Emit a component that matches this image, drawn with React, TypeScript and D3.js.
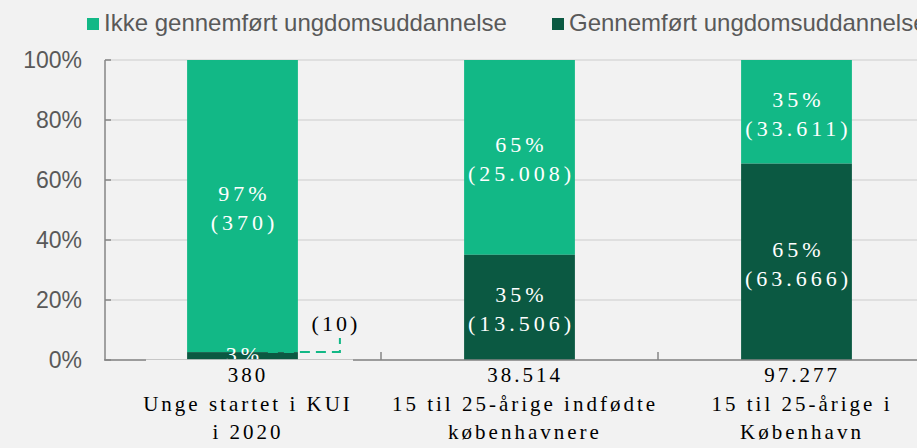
import React from "react";
import * as d3 from "d3";

const categories = ["Unge startet i KUI i 2020", "15 til 25-årige indfødte københavnere", "15 til 25-årige i København"];
const categoryLines = [
  ["380", "Unge startet i KUI", "i 2020"],
  ["38.514", "15 til 25-årige indfødte", "københavnere"],
  ["97.277", "15 til 25-årige i", "København"],
];
const totals = [380, 38514, 97277];
const completedCounts = [10, 13506, 63666];
const notCompletedCounts = [370, 25008, 33611];
const completedPctLabels = ["3%", "35%", "65%"];
const notCompletedPctLabels = ["97%", "65%", "35%"];
const completedCountLabels = ["(10)", "(13.506)", "(63.666)"];
const notCompletedCountLabels = ["(370)", "(25.008)", "(33.611)"];
const yTicks = [0, 0.2, 0.4, 0.6, 0.8, 1];
const seriesNames = ["Ikke gennemført ungdomsuddannelse", "Gennemført ungdomsuddannelse"];

const W = 917;
const H = 448;
const LIGHT = "#12b886";
const DARK = "#0b5942";
const BG = "#f2f2f2";
const AXIS = "#868686";
const GRID = "#d9d9d9";
const TXT = "#595959";
const SERIF = "'Liberation Serif', 'Times New Roman', serif";
const SANS = "'Liberation Sans', Arial, sans-serif";

export default function App() {
  const x = d3.scaleBand<string>().domain(categories).range([104, 935]).paddingInner(0.6).paddingOuter(0.3);
  const y = d3.scaleLinear().domain([0, 1]).range([360, 60]);
  const bw = x.bandwidth();
  const step = x.step();
  const barLS = 4;
  const catLS = 3;

  return (
    <svg width={W} height={H} style={{ position: "absolute", left: 0, top: 0 }}>
      <defs>
        <clipPath id="plotClip">
          <rect x={0} y={0} width={W} height={359.5} />
        </clipPath>
      </defs>
      <rect x={0} y={0} width={W} height={H} fill={BG} />
      {/* gridlines */}
      {yTicks.map((t) => (
        <line key={"g" + t} x1={105} x2={W} y1={y(t)} y2={y(t)} stroke={GRID} strokeWidth={1.5} />
      ))}
      {/* y ticks */}
      {yTicks.map((t) => (
        <g key={"t" + t}>
          <line x1={105} x2={111} y1={y(t)} y2={y(t)} stroke={AXIS} strokeWidth={1.5} />
          <text x={82} y={y(t)} dy="0.35em" textAnchor="end" fontFamily={SANS} fontSize={23} fill={TXT}>
            {d3.format(".0%")(t)}
          </text>
        </g>
      ))}
      {/* bars */}
      {categories.map((c, i) => {
        const pDone = completedCounts[i] / totals[i];
        const x0 = x(c)!;
        return (
          <g key={c}>
            <rect x={x0} y={y(1)} width={bw} height={y(pDone) - y(1)} fill={LIGHT} />
            <rect x={x0} y={y(pDone)} width={bw} height={y(0) - y(pDone)} fill={DARK} />
          </g>
        );
      })}
      {/* bar labels */}
      {categories.map((c, i) => {
        const pDone = completedCounts[i] / totals[i];
        const cx = x(c)! + bw / 2 + barLS / 2;
        const midL = (y(1) + y(pDone)) / 2;
        const midD = (y(pDone) + y(0)) / 2;
        const big = pDone > 0.1;
        return (
          <g key={"l" + c} fontFamily={SERIF} fontSize={22} fill="#ffffff" textAnchor="middle" letterSpacing={barLS}>
            <text x={cx} y={midL - 5}>{notCompletedPctLabels[i]}</text>
            <text x={cx} y={midL + 24}>{notCompletedCountLabels[i]}</text>
            {big ? (
              <>
                <text x={cx} y={midD - 5}>{completedPctLabels[i]}</text>
                <text x={cx} y={midD + 24}>{completedCountLabels[i]}</text>
              </>
            ) : (
              <text x={cx} y={362} clipPath="url(#plotClip)">{completedPctLabels[i]}</text>
            )}
          </g>
        );
      })}
      {/* small-segment callout */}
      {(() => {
        const c = categories[0];
        const pDone = completedCounts[0] / totals[0];
        const xr = x(c)! + bw;
        const ly = y(pDone);
        return (
          <g>
            <path
              d={`M${xr - 30},${ly} L${xr + 42},${ly} L${xr + 42},${ly - 14}`}
              fill="none"
              stroke={LIGHT}
              strokeWidth={2}
              strokeDasharray="10 6"
            />
            <text x={xr + 38} y={331} textAnchor="middle" fontFamily={SERIF} fontSize={22} fill="#000" letterSpacing={3}>
              {completedCountLabels[0]}
            </text>
          </g>
        );
      })()}
      {/* axes */}
      <line x1={105} x2={105} y1={y(1)} y2={y(0)} stroke={AXIS} strokeWidth={1.5} />
      <line x1={104} x2={W} y1={y(0)} y2={y(0)} stroke={AXIS} strokeWidth={1.5} />
      {[1, 2].map((k) => {
        const xb = x(categories[k])! - (step - bw) / 2;
        return <line key={"ct" + k} x1={xb} x2={xb} y1={y(0)} y2={y(0) - 8} stroke={AXIS} strokeWidth={1.5} />;
      })}
      {/* category labels, first one with opaque box */}
      <rect x={146} y={359.5} width={207} height={H - 359.5} fill={BG} />
      {categories.map((c, i) => {
        const cx = x(c)! + bw / 2 + catLS / 2 + 4;
        return (
          <g key={"c" + c} fontFamily={SERIF} fontSize={21} fill="#000" textAnchor="middle" letterSpacing={catLS}>
            {categoryLines[i].map((ln, j) => (
              <text key={j} x={cx} y={382 + j * 28.5}>{ln}</text>
            ))}
          </g>
        );
      })}
      {/* legend */}
      <rect x={87} y={18} width={12} height={12} fill={LIGHT} />
      <text x={104} y={31} fontFamily={SANS} fontSize={24} fill={TXT}>{seriesNames[0]}</text>
      <rect x={552} y={18} width={12} height={12} fill={DARK} />
      <text x={569} y={31} fontFamily={SANS} fontSize={24} fill={TXT}>{seriesNames[1]}</text>
    </svg>
  );
}
